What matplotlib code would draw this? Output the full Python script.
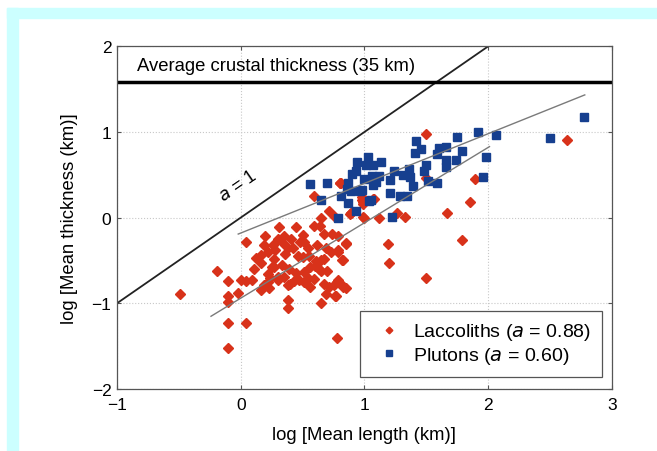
import numpy as np
import matplotlib.pyplot as plt
from matplotlib.patches import Rectangle

plt.rcParams['font.family'] = ['Liberation Sans', 'DejaVu Sans']

# Laccoliths (log mean length, log mean thickness)
lac_x = [-0.49, -0.19, -0.10, -0.10, -0.10, -0.10, -0.10, 0.04, -0.02, 0.04,
         0.00, 0.04, 0.09, 0.11, 0.16, 0.19, 0.16, 0.22, 0.26, 0.27,
         0.20, 0.16, 0.19, 0.22, 0.24, 0.30, 0.23, 0.22, 0.31, 0.45,
         0.35, 0.34, 0.38, 0.28, 0.50, 0.51, 0.54, 0.50, 0.64, 0.67,
         0.74, 0.79, 0.62, 0.69, 0.73, 0.79, 0.85, 0.82, 0.67, 0.61,
         0.63, 0.56, 0.51, 0.47, 0.40, 0.38, 0.35, 0.30, 0.51, 0.56,
         0.54, 0.67, 0.71, 0.75, 0.79, 0.82, 0.85, 0.69, 0.77, 0.38,
         0.38, 0.65, 0.78, 0.42, 0.46, 0.36, 0.39, 0.43, 0.55, 0.60,
         0.65, 0.59, 0.65, 0.59, 0.65, 0.71, 0.75, 0.59, 0.80, 0.88,
         1.00, 1.12, 1.19, 1.20, 1.26, 1.33, 1.50, 2.64, 1.89, 1.85,
         1.67, 1.79, 1.50, 1.50, 0.80, 0.98, 1.07, 0.99, 0.89, 0.85,
         0.83, 0.79, 0.78, 0.83, 0.76, 0.81, 0.98, 0.99, 1.08, 0.89,
         0.99, 0.27, 0.12, 0.33, 0.45, 0.70, 0.30, 0.41, 0.25, 0.48]
lac_y = [-0.89, -0.62, -0.74, -0.91, -0.99, -1.23, -1.52, -1.23, -0.88, -0.28,
         -0.73, -0.74, -0.73, -0.60, -0.44, -0.32, -0.53, -0.40, -0.32, -0.48,
         -0.21, -0.85, -0.79, -0.75, -0.70, -0.69, -0.82, -0.66, -0.11, -0.11,
         -0.21, -0.30, -0.36, -0.38, -0.20, -0.29, -0.36, -0.46, -0.10, -0.19,
         -0.19, -0.22, -0.32, -0.36, -0.40, -0.38, -0.30, -0.50, -0.48, -0.51,
         -0.60, -0.58, -0.63, -0.73, -0.77, -0.79, -0.69, -0.73, -0.75, -0.81,
         -0.71, -0.77, -0.81, -0.79, -0.73, -0.79, -0.82, -0.89, -0.91, -0.96,
         -1.05, -1.00, -1.40, -0.35, -0.45, -0.43, -0.60, -0.74, -0.45, -0.56,
         -0.62, -0.72, -0.49, -0.10, 0.00, 0.08, 0.02, 0.25, 0.41, 0.04,
         0.00, 0.00, -0.31, -0.53, 0.05, 0.01, 0.98, 0.91, 0.45, 0.18,
         0.05, -0.26, -0.70, 0.46, 0.40, 0.24, 0.22, 0.18, 0.05, -0.31,
         -0.50, -0.40, -0.75, -0.81, -0.92, 0.41, 0.20, 0.16, 0.22, 0.05,
         0.01, -0.58, -0.47, -0.55, -0.65, -0.62, -0.25, -0.25, -0.58, -0.28]

# Plutons
plu_x = [0.56, 0.70, 0.65, 0.79, 0.81, 0.87, 0.93, 0.90, 0.87, 0.86,
         0.94, 0.93, 1.03, 1.07, 1.06, 1.07, 1.13, 1.09, 0.98, 0.89,
         1.05, 1.12, 1.21, 1.24, 1.31, 1.36, 1.37, 1.39, 1.21, 1.29,
         1.34, 1.22, 1.41, 1.42, 1.46, 1.48, 1.50, 1.51, 1.59, 1.59,
         1.60, 1.66, 1.66, 1.66, 1.74, 1.75, 1.79, 1.92, 1.96, 1.98,
         2.06, 2.50, 2.77, 0.96, 1.00, 1.04, 1.01]
plu_y = [0.39, 0.41, 0.21, 0.00, 0.25, 0.17, 0.08, 0.51, 0.41, 0.34,
         0.65, 0.55, 0.71, 0.61, 0.49, 0.38, 0.65, 0.42, 0.32, 0.31,
         0.21, 0.49, 0.44, 0.55, 0.50, 0.57, 0.48, 0.37, 0.29, 0.25,
         0.25, 0.01, 0.75, 0.90, 0.80, 0.55, 0.61, 0.43, 0.40, 0.74,
         0.81, 0.82, 0.67, 0.59, 0.67, 0.94, 0.78, 1.00, 0.48, 0.71,
         0.97, 0.93, 1.18, 0.31, 0.45, 0.19, 0.62]

# fitted lines: slope, intercept, x range
lac_fit = (0.88, -0.94, -0.24, 2.01)
plu_fit = (0.58, -0.18, -0.02, 2.78)
crust_y = 1.585  # drawn level of the 35 km line

red = '#d8321a'
blue = '#163f8f'

fig = plt.figure(figsize=(6.57, 4.52), dpi=100)
fig.patches.append(Rectangle((7 / 657, 0), 11 / 657, 1 - 9 / 452,
                             transform=fig.transFigure, color='#ccffff', zorder=0))
fig.patches.append(Rectangle((7 / 657, 1 - 19 / 452), 1, 10 / 452,
                             transform=fig.transFigure, color='#ccffff', zorder=0))

ax = fig.add_axes([0.178, 0.1372, 0.7535, 0.7582])
ax.set_xlim(-1, 3)
ax.set_ylim(-2, 2)
ax.set_xticks([-1, 0, 1, 2, 3])
ax.set_yticks([-2, -1, 0, 1, 2])
ax.set_xticklabels(['\u22121', '0', '1', '2', '3'])
ax.set_yticklabels(['\u22122', '\u22121', '0', '1', '2'])
ax.grid(True, linestyle=':', color='#c8c8c8', linewidth=0.8)
ax.tick_params(direction='in', length=3, top=True, right=True, labelsize=12.5,
               color='#555555')
ax.tick_params(axis='x', pad=6)
ax.tick_params(axis='y', pad=4)
for s in ax.spines.values():
    s.set_color('#555555')
    s.set_linewidth(0.9)

# a = 1 line
xx = np.array([-1, 3])
ax.plot(xx, xx, color='#222222', lw=1.3, zorder=2)
ax.text(-0.02, 0.37, '$a$ = 1', rotation=34.6, rotation_mode='anchor',
        ha='center', va='center', fontsize=13)

# crustal thickness
ax.axhline(crust_y, color='black', lw=2.5, zorder=2)
ax.text(-0.84, 1.77, 'Average crustal thickness (35 km)', fontsize=13.3,
        ha='left', va='center')

for sl, ic, x0, x1 in (lac_fit, plu_fit):
    fx = np.array([x0, x1])
    ax.plot(fx, sl * fx + ic, color='#7a7a7a', lw=1.0, zorder=4)

ax.plot(lac_x, lac_y, 'D', color=red, ms=5.2, mec=red, ls='none', zorder=3,
        label='Laccoliths ($a$ = 0.88)')
ax.plot(plu_x, plu_y, 's', color=blue, ms=5.6, mec=blue, ls='none', zorder=3,
        label='Plutons ($a$ = 0.60)')

leg = ax.legend(loc='lower right', fontsize=14, fancybox=False, framealpha=1,
                edgecolor='#555555', markerscale=0.65, handlelength=1.9,
                handletextpad=0.3, borderpad=0.55, labelspacing=0.15,
                borderaxespad=0, bbox_to_anchor=(0.98, 0.035))
leg.get_frame().set_linewidth(0.9)

ax.set_xlabel('log [Mean length (km)]', fontsize=13.3, labelpad=10)
ax.set_ylabel('log [Mean thickness (km)]', fontsize=13.3, labelpad=10)

fig.savefig('out.png', dpi=100)
